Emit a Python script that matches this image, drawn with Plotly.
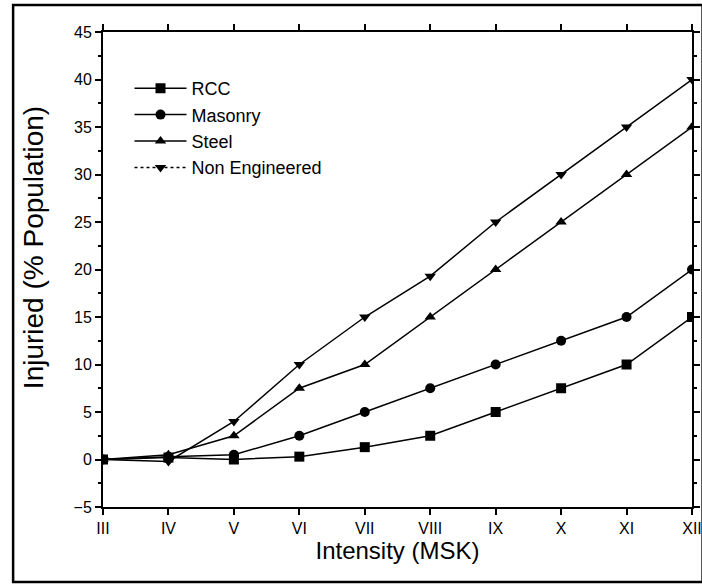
import plotly.graph_objects as go

intensity = [3, 4, 5, 6, 7, 8, 9, 10, 11, 12]
tick_labels = ["III", "IV", "V", "VI", "VII", "VIII", "IX", "X", "XI", "XII"]
rcc = [0, 0.2, 0, 0.3, 1.3, 2.5, 5, 7.5, 10, 15]
masonry = [0, 0.3, 0.5, 2.5, 5, 7.5, 10, 12.5, 15, 20]
steel = [0, 0.5, 2.5, 7.5, 10, 15, 20, 25, 30, 35]
non_engineered = [0, -0.2, 4, 10, 15, 19.3, 25, 30, 35, 40]

series = [
    ("RCC", rcc, "square", "solid"),
    ("Masonry", masonry, "circle", "solid"),
    ("Steel", steel, "triangle-up", "solid"),
    ("Non Engineered", non_engineered, "triangle-down", "dot"),
]

fig = go.Figure()
for name, vals, sym, legend_dash in series:
    fig.add_trace(go.Scatter(
        x=intensity, y=vals, name=name, mode="lines+markers",
        line=dict(color="black", width=1.5),
        marker=dict(symbol=sym, size=10, color="black"),
        showlegend=False, legendgroup=name,
    ))
for name, vals, sym, legend_dash in series:
    # legend-only entry (no data drawn) so the key can show its own line style
    fig.add_trace(go.Scatter(
        x=[None], y=[None], name=name, mode="lines+markers",
        line=dict(color="black", width=1.5, dash=legend_dash),
        marker=dict(symbol=sym, size=10, color="black"),
        legendgroup=name,
    ))

font = "Arial, Liberation Sans, sans-serif"
fig.update_layout(
    width=712, height=584, autosize=False,
    margin=dict(l=103, r=10, t=32, b=77),
    paper_bgcolor="white", plot_bgcolor="white",
    font=dict(family=font, color="black", size=16),
    showlegend=True,
    legend=dict(x=0.045, y=0.92, xanchor="left", yanchor="top",
                bgcolor="rgba(0,0,0,0)", font=dict(size=18, family=font),
                tracegroupgap=0, itemwidth=52),
    xaxis=dict(
        range=[3, 12], tickvals=intensity, ticktext=tick_labels,
        showgrid=False, zeroline=False, showline=True, linecolor="black",
        linewidth=2, mirror="ticks", ticks="outside", ticklen=6, tickwidth=1.5,
        tickcolor="black",
        title=dict(text="Intensity (MSK)", font=dict(size=24, family=font), standoff=6),
    ),
    yaxis=dict(
        range=[-5, 45], tickvals=[-5, 0, 5, 10, 15, 20, 25, 30, 35, 40, 45],
        showgrid=False, zeroline=False, showline=True, linecolor="black",
        linewidth=2, mirror="ticks", ticks="outside", ticklen=6, tickwidth=1.5,
        tickcolor="black",
        minor=dict(dtick=2.5, tick0=0, ticks="outside", ticklen=3, tickcolor="black", showgrid=False),
    ),
    annotations=[dict(text="Injuried (% Population)", textangle=-90,
                      xref="paper", yref="paper", x=-0.118, y=0.546,
                      xanchor="center", yanchor="middle", showarrow=False,
                      font=dict(size=28, family=font, color="black"))],
    shapes=[dict(type="rect", xref="paper", yref="paper",
                 x0=-0.1526, x1=1.018, y0=-0.158, y1=1.0568,
                 line=dict(color="black", width=2.5))],
)

fig.write_html(
    "out.html",
    config={"displayModeBar": False, "responsive": False},
    post_script="document.body.style.margin='0';document.body.style.overflow='hidden';"
                "document.documentElement.style.overflow='hidden';",
)
